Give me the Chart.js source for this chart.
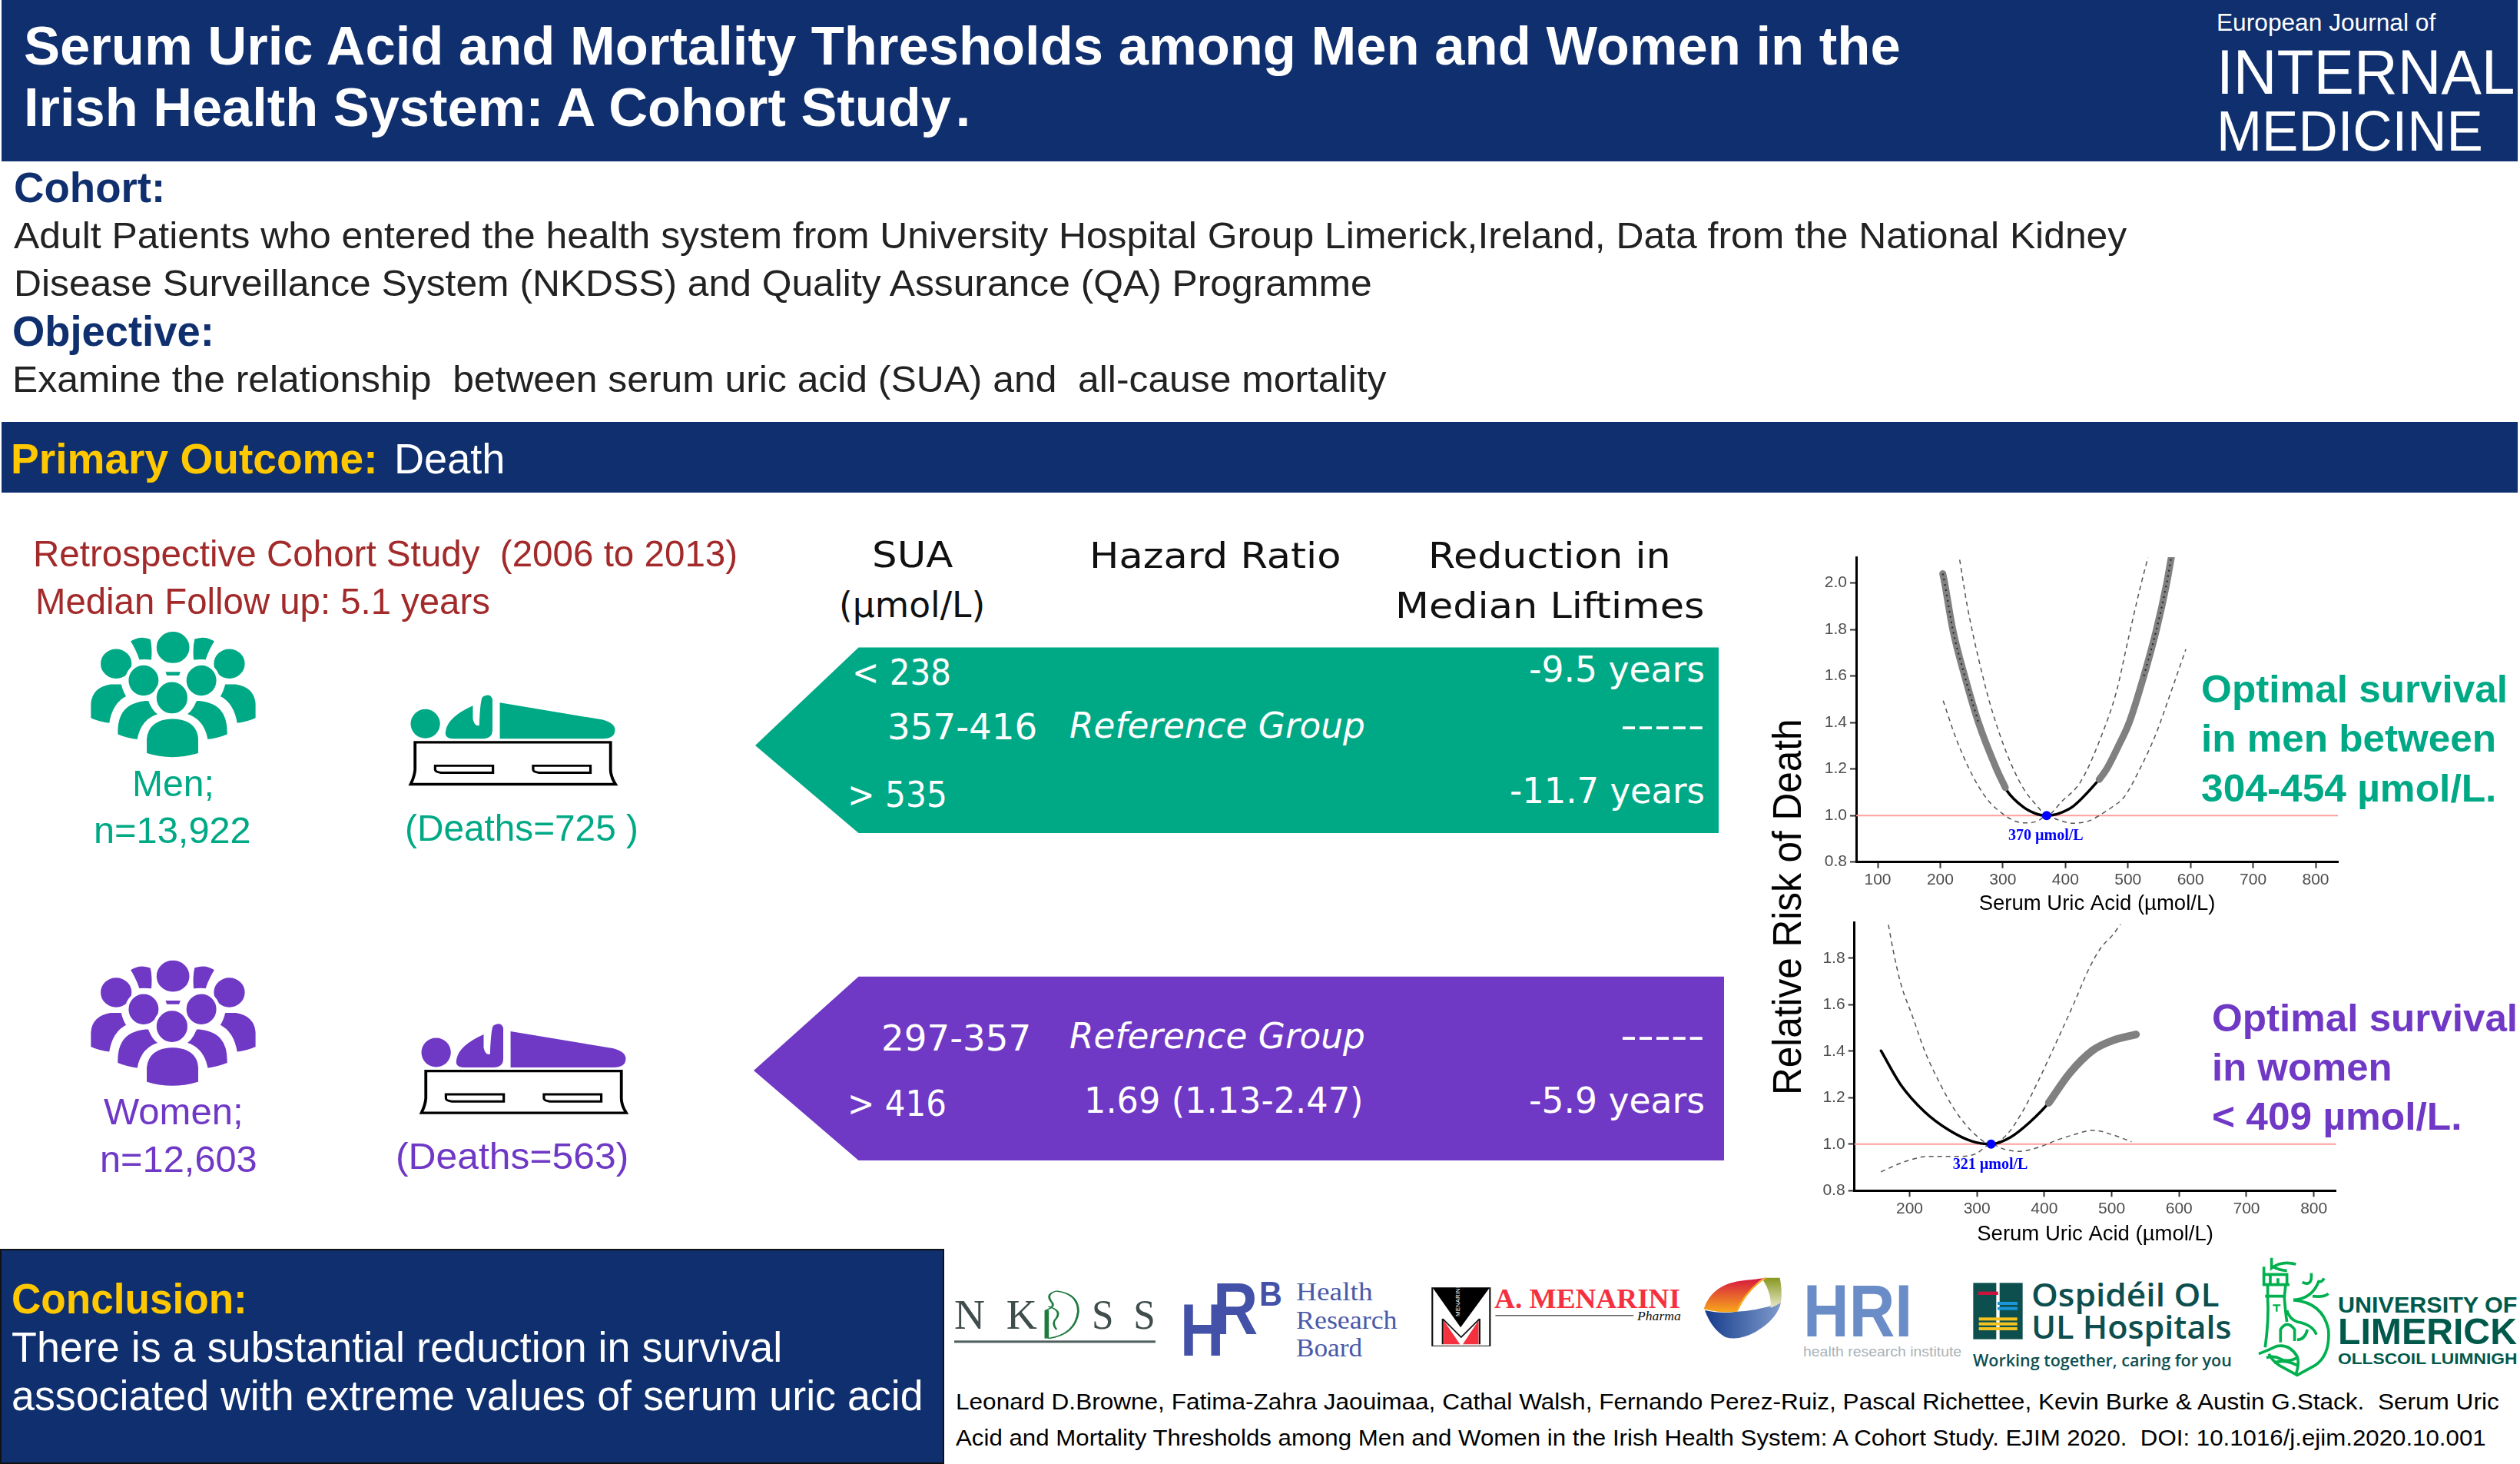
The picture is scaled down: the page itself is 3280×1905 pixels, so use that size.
<!DOCTYPE html>
<html>
<head>
<meta charset="utf-8">
<title>Serum Uric Acid and Mortality Thresholds</title>
<script src="https://cdn.jsdelivr.net/npm/chart.js@4"></script>
<style>
  html, body { margin: 0; padding: 0; background: #fff; }
  #page { position: relative; width: 3280px; height: 1905px; overflow: hidden; background: #fff; }
  #page svg.art { position: absolute; left: 0; top: 0; }
  .t { position: absolute; white-space: pre; line-height: 0.8; transform-origin: 0 0; }
  .box { position: absolute; background: #0f2f6e; }
  canvas { position: absolute; }
</style>
</head>
<body>
<div id="page">
  <div class="box" style="left:2px;top:0;width:3275px;height:210px"></div>
  <div class="box" style="left:2px;top:549px;width:3275px;height:92px"></div>
  <div class="box" style="left:0;top:1625px;width:1225px;height:276px;border:2px solid #111"></div>

  <svg class="art" width="3280" height="1905" viewBox="0 0 3280 1905">
    <defs>
      <g id="crowd" fill="currentColor" stroke="#fff" stroke-width="7">
        <path d="M262,268 Q285,250 310,262 Q315,285 312,315 Q290,312 282,315 Q275,290 262,268Z"/>
        <path d="M442,268 Q419,250 394,262 Q389,285 392,315 Q414,312 422,315 Q429,290 442,268Z"/>
        <path d="M333,335 L373,335 L368,350 L338,350Z"/>
        <ellipse cx="353" cy="283" rx="37" ry="39"/>
        <ellipse cx="237" cy="320" rx="35" ry="37"/>
        <ellipse cx="468" cy="320" rx="35" ry="37"/>
        <path d="M182,445 L182,410 Q185,370 225,363 L250,363 Q255,385 262,395 Q232,410 226,458 Q200,455 182,445Z"/>
        <path d="M525,445 L525,410 Q522,370 482,363 L457,363 Q452,385 445,395 Q475,410 481,458 Q507,455 525,445Z"/>
        <ellipse cx="293" cy="358" rx="34" ry="38"/>
        <ellipse cx="411" cy="358" rx="34" ry="38"/>
        <path d="M237,482 C235,430 255,402 305,400 Q315,430 330,435 Q290,445 283,495 Q258,492 237,482Z"/>
        <path d="M467,482 C469,430 449,402 399,400 Q389,430 374,435 Q414,445 421,495 Q446,492 467,482Z"/>
        <ellipse cx="351" cy="397" rx="35" ry="39"/>
        <path d="M296,525 L296,490 Q300,443 352,441 Q405,443 408,490 L408,525 Q352,545 296,525Z"/>
      </g>
      <g id="coffin">
        <g fill="currentColor">
          <ellipse cx="868" cy="456" rx="30" ry="33"/>
          <path d="M910,470 Q915,440 965,415 L965,445 Q968,462 978,460 Q980,400 985,395 Q1000,385 1005,400 L1005,470 Q1005,490 985,490 L925,490 Q905,490 910,470Z"/>
          <path d="M1020,408 L1230,447 Q1255,455 1255,470 Q1255,490 1230,490 L1020,490Z"/>
        </g>
        <path d="M847,498 L1246,498 L1246,560 Q1246,575 1256,593 L838,593 Q846,575 847,560Z" fill="#fff" stroke="#000" stroke-width="6"/>
        <path d="M888,551 L1006,551 L1006,567 L900,567 Q888,565 888,560Z" fill="#fff" stroke="#000" stroke-width="5"/>
        <path d="M1088,551 L1205,551 L1205,567 L1100,567 Q1088,565 1088,560Z" fill="#fff" stroke="#000" stroke-width="5"/>
      </g>
      <linearGradient id="ribRed" x1="0" y1="0" x2="0" y2="1"><stop offset="0" stop-color="#d6183f"/><stop offset="1" stop-color="#f7a81c"/></linearGradient>
      <linearGradient id="ribBlue" x1="0" y1="0" x2="1" y2="0"><stop offset="0" stop-color="#163c8c"/><stop offset="1" stop-color="#7e9bcc"/></linearGradient>
      <linearGradient id="ribOlive" x1="0" y1="0" x2="0" y2="1"><stop offset="0" stop-color="#87981f"/><stop offset="1" stop-color="#e8e8cc"/></linearGradient>
    </defs>

    <polygon points="1117.5,842.5 2237,842.5 2237,1084 1117.5,1084 983,970" fill="#00a985"/>
    <polygon points="1117.5,1270.8 2244,1270.8 2244,1510 1117.5,1510 981,1393" fill="#6f38c5"/>

    <g transform="translate(0,680) scale(.6378,.5741)">
      <use href="#crowd" style="color:#00a985"/>
      <use href="#coffin" style="color:#00a985"/>
      <use href="#crowd" transform="translate(0,745)" style="color:#6f38c5"/>
      <use href="#coffin" transform="translate(22,745)" style="color:#6f38c5"/>
    </g>

    <!-- NKDSS, HRB, Menarini and HRI logos -->
    <g transform="translate(1230,1650) scale(.7079,.3333)">
      <path d="M205,90 Q245,100 245,170 Q240,260 190,275 M205,90 Q185,100 195,130 Q205,150 185,165 M190,150 Q215,165 205,195 Q195,215 205,240" fill="none" stroke="#1f7a3f" stroke-width="4"/>
      <path d="M187,165 L187,275" stroke="#1f7a3f" stroke-width="8"/>
      <rect x="17" y="283" width="370" height="9" fill="#4f5f5e"/>
      <rect x="896" y="77" width="106" height="227" fill="#fff" stroke="#111" stroke-width="3"/>
      <path d="M897,78 L1001,78 L948,232Z" fill="#000"/>
      <path d="M917,205 L947,298 L917,298Z M981,205 L981,298 L952,298Z" fill="#f5303f"/>
      <path d="M915,298 L915,198 L949,270 L983,198 L983,298" fill="none" stroke="#111" stroke-width="3"/>
      <rect x="1012" y="184" width="254" height="3" fill="#111"/>
      <path d="M1397,165 Q1430,180 1455,170 Q1500,165 1537,135 Q1530,200 1490,250 Q1460,285 1435,270 Q1410,240 1397,165Z" fill="url(#ribBlue)"/>
      <path d="M1395,160 Q1410,60 1470,48 L1505,40 Q1480,70 1455,170 Q1425,178 1395,160Z" fill="url(#ribRed)"/>
      <path d="M1505,38 L1535,38 Q1540,90 1537,135 Q1525,150 1518,155 Q1520,100 1505,50Z" fill="url(#ribOlive)"/>
      <path d="M1455,170 Q1475,80 1510,38" fill="none" stroke="#f7a81c" stroke-width="4"/>
    </g>
    <text transform="rotate(-90 1900 1713)" x="1900" y="1713" font-family="Liberation Sans" font-size="8" fill="#fff">MENARINI</text>

    <!-- hospital group and university crest -->
    <g transform="translate(2560,1630) scale(.3333)">
      <rect x="25" y="118" width="90" height="220" fill="#0d4f4f"/>
      <rect x="128" y="118" width="90" height="220" fill="#0d4f4f"/>
      <rect x="45" y="152" width="77" height="13" fill="#c8143c"/>
      <rect x="120" y="192" width="78" height="12" fill="#1b96d8"/>
      <rect x="120" y="212" width="78" height="12" fill="#1b96d8"/>
      <rect x="47" y="253" width="150" height="12" fill="#f4c320"/>
      <rect x="47" y="272" width="150" height="12" fill="#f4c320"/>
      <rect x="47" y="291" width="150" height="12" fill="#f4c320"/>
      <g fill="none" stroke="#00b04f" stroke-width="11">
        <path d="M1190,20 L1190,60 Q1230,30 1285,45 M1195,55 Q1225,70 1250,70"/>
        <path d="M1160,55 L1160,125 L1260,125 M1160,85 L1250,85 L1250,125 M1185,85 L1185,125 M1215,100 L1215,125"/>
        <path d="M1165,170 L1245,170 M1175,125 L1175,175 Q1180,260 1165,370 M1245,125 L1240,175 Q1245,240 1250,270"/>
        <path d="M1195,205 L1225,205 M1210,205 L1210,230" stroke-width="7"/>
        <path d="M1275,185 Q1390,195 1412,300 Q1420,400 1360,440 L1290,478 L1220,440 Q1190,420 1180,395"/>
        <path d="M1275,185 Q1350,180 1375,110 M1310,115 Q1350,135 1345,80 M1350,170 Q1395,175 1412,160 M1370,110 Q1385,120 1395,100"/>
        <path d="M1225,350 L1225,300 Q1250,260 1280,300 L1280,345 M1250,225 Q1260,260 1290,270 Q1350,280 1365,320 M1290,340 Q1320,340 1330,300"/>
        <path d="M1140,395 Q1180,380 1210,365 Q1260,355 1290,405 M1170,410 Q1200,400 1225,415 Q1255,430 1290,410 M1200,430 Q1240,415 1290,440 M1290,405 Q1300,430 1285,475"/>
      </g>
    </g>
  </svg>

  <canvas id="chartMen" width="760" height="492" style="left:2300px;top:705px;width:760px;height:492px"></canvas>
  <canvas id="chartWomen" width="760" height="445" style="left:2300px;top:1180px;width:760px;height:445px"></canvas>
</div>

<script>
// x axis ticks and y axis ticks of both panels
const menXTicks = [100, 200, 300, 400, 500, 600, 700, 800];
const menYTicks = [0.8, 1.0, 1.2, 1.4, 1.6, 1.8, 2.0];
const womenXTicks = [200, 300, 400, 500, 600, 700, 800];
const womenYTicks = [0.8, 1.0, 1.2, 1.4, 1.6, 1.8];

// men, relative risk curve
const menSua = [204, 207, 220, 239, 261, 290, 304, 306, 334, 350, 360, 370, 380, 390, 413, 451.5, 454, 466, 484, 502, 525.4, 545.6, 562, 569.3];
const menRisk = [2.04, 2.0, 1.80, 1.60, 1.40, 1.20, 1.12, 1.109, 1.034, 1.011, 1.002, 1.0, 1.002, 1.009, 1.041, 1.147, 1.155, 1.2, 1.295, 1.4, 1.6, 1.8, 2.0, 2.11];
const menUpperSua = [231, 243.5, 262, 281, 306, 331, 356, 370, 394, 425, 456.5, 481.6, 500, 519, 532];
const menUpper = [2.10, 1.896, 1.665, 1.467, 1.269, 1.125, 1.037, 1.0, 1.06, 1.148, 1.335, 1.533, 1.753, 1.974, 2.11];
const menLowerSua = [204.6, 224.7, 250, 275, 300, 318.7, 337.5, 356, 370, 387.6, 412.7, 437.7, 456.5, 475, 494, 519, 544, 569, 592.5];
const menLower = [1.494, 1.335, 1.18, 1.07, 1.007, 0.977, 0.968, 0.977, 1.0, 0.982, 0.967, 0.977, 1.004, 1.037, 1.08, 1.2, 1.346, 1.533, 1.715];

// women, relative risk curve
const womenSua = [157.5, 187, 222, 257, 292, 321, 350, 379, 406.6, 437.5, 472, 501.5, 536];
const womenRisk = [1.402, 1.255, 1.14, 1.063, 1.013, 1.0, 1.03, 1.096, 1.178, 1.305, 1.404, 1.446, 1.472];
const womenUpperSua = [168.6, 175.6, 187, 204.7, 222, 245, 268.7, 297.8, 321, 344, 367.6, 391, 414, 443, 466.6, 484, 501.5, 513];
const womenUpper = [1.944, 1.834, 1.69, 1.547, 1.404, 1.261, 1.14, 1.04, 1.0, 1.04, 1.14, 1.272, 1.415, 1.60, 1.757, 1.845, 1.90, 1.946];
const womenLowerSua = [157.5, 193, 228, 268.7, 297.8, 321, 338.5, 362, 391, 420, 443, 472, 501.5, 529.5];
const womenLower = [0.881, 0.925, 0.947, 0.947, 0.958, 1.0, 0.98, 0.969, 0.986, 1.019, 1.04, 1.06, 1.04, 1.01];

function toPoints(xs, ys) {
  return xs.map(function (x, i) { return { x: x, y: ys[i] }; });
}

function pick(xs, ys, test) {
  return toPoints(xs, ys).filter(function (p) { return test(p.x); });
}

function curve(data, color, width, dash) {
  return {
    data: data,
    showLine: true,
    borderColor: color,
    borderWidth: width,
    borderDash: dash || [],
    borderCapStyle: dash ? 'butt' : 'round',
    cubicInterpolationMode: 'monotone',
    pointRadius: 0,
    fill: false
  };
}

// text under the blue nadir point, placed from the point itself
const nadirLabel = {
  id: 'nadirLabel',
  afterDatasetsDraw(chart, args, opts) {
    const p = chart.getDatasetMeta(0).data[0];
    const c = chart.ctx;
    c.save();
    c.font = "bold 20px 'Liberation Serif'";
    c.fillStyle = '#0000ff';
    c.textAlign = 'center';
    c.textBaseline = 'alphabetic';
    c.fillText(opts.text, p.x - 1, p.y + 32);
    c.restore();
  }
};

function makeChart(id, cfg) {
  const datasets = [
    { data: [cfg.nadir], showLine: false, pointRadius: 6, pointBackgroundColor: '#0000ff', pointBorderWidth: 0 }
  ].concat(cfg.lines).concat([
    curve(toPoints([cfg.xMin, cfg.xMax], [1, 1]), '#ff9f9f', 2)
  ]);

  return new Chart(document.getElementById(id), {
    type: 'scatter',
    data: { datasets: datasets },
    plugins: [nadirLabel],
    options: {
      responsive: false,
      animation: false,
      devicePixelRatio: 1,
      layout: { padding: { top: cfg.padTop, right: cfg.padRight, left: 0, bottom: 0 } },
      plugins: {
        legend: { display: false },
        tooltip: { enabled: false },
        nadirLabel: { text: cfg.label }
      },
      scales: {
        x: {
          type: 'linear',
          min: cfg.xMin,
          max: cfg.xMax,
          afterBuildTicks: function (s) { s.ticks = cfg.xTicks.map(function (v) { return { value: v }; }); },
          afterFit: function (s) { s.height = cfg.xHeight; },
          border: { color: '#000', width: 3 },
          grid: { drawOnChartArea: false, drawTicks: true, tickLength: 8, tickColor: '#333', tickWidth: 2 },
          ticks: { color: '#4d4d4d', font: { size: 21 }, padding: 3, maxRotation: 0, autoSkip: false },
          title: { display: true, text: 'Serum Uric Acid (µmol/L)', color: '#000', font: { size: 27.5 }, padding: { top: 0, bottom: cfg.titleBottom } }
        },
        y: {
          type: 'linear',
          min: 0.8,
          max: cfg.yMax,
          afterBuildTicks: function (s) { s.ticks = cfg.yTicks.map(function (v) { return { value: v }; }); },
          afterFit: function (s) { s.width = cfg.yWidth; },
          border: { color: '#000', width: 3 },
          grid: { drawOnChartArea: false, drawTicks: true, tickLength: 8, tickColor: '#333', tickWidth: 2 },
          ticks: { color: '#4d4d4d', font: { size: 21 }, padding: 4, autoSkip: false, callback: function (v) { return Number(v).toFixed(1); } }
        }
      }
    }
  });
}

Chart.defaults.font.family = "'Liberation Sans', Arial, sans-serif";

makeChart('chartMen', {
  nadir: { x: 370, y: 1 },
  label: '370 µmol/L',
  xMin: 65.6, xMax: 835.6, yMax: 2.111,
  xTicks: menXTicks, yTicks: menYTicks,
  padTop: 20, padRight: 17, xHeight: 75.3, yWidth: 116, titleBottom: 4,
  lines: [
    curve(pick(menSua, menRisk, function (x) { return x <= 261; }), '#222', 2, [2, 5]),
    curve(pick(menSua, menRisk, function (x) { return x >= 525; }), '#222', 2, [2, 5]),
    curve(pick(menSua, menRisk, function (x) { return x <= 304; }), '#808080', 9),
    curve(pick(menSua, menRisk, function (x) { return x >= 454; }), '#808080', 9),
    curve(toPoints(menSua, menRisk), '#000', 3.5),
    curve(toPoints(menUpperSua, menUpper), '#555', 1.5, [6, 5]),
    curve(toPoints(menLowerSua, menLower), '#555', 1.5, [6, 5])
  ]
});

makeChart('chartWomen', {
  nadir: { x: 321, y: 1 },
  label: '321 µmol/L',
  xMin: 118, xMax: 833, yMax: 1.955,
  xTicks: womenXTicks, yTicks: womenYTicks,
  padTop: 20, padRight: 19.4, xHeight: 75.7, yWidth: 113.6, titleBottom: 2,
  lines: [
    curve(pick(womenSua, womenRisk, function (x) { return x >= 406; }), '#808080', 10),
    curve(toPoints(womenSua, womenRisk), '#000', 3.5),
    curve(toPoints(womenUpperSua, womenUpper), '#555', 1.5, [6, 5]),
    curve(toPoints(womenLowerSua, womenLower), '#555', 1.5, [6, 5])
  ]
});

// page text: [text, left, right, baseline, size, colour, style]
const SANS = "'Liberation Sans'", SERIF = "'Liberation Serif'", DEJA = "'DejaVu Sans'", OPEN = "'Open Sans'";
const NAVY = '#0f2f6e', GOLD = '#ffc800', GREEN = '#00a985', PURPLE = '#6f38c5', BROWN = '#a32a2a', WHITE = '#fff';

const pageTexts = [
  ['Serum Uric Acid and Mortality Thresholds among Men and Women in the', 31, 2474, 83, 71, WHITE, 'b'],
  ['Irish Health System: A Cohort Study\u200a.', 31, 1263, 163, 71, WHITE, 'b'],
  ['European Journal of', 2885, 3170, 39, 31, WHITE],
  ['INTERNAL', 2885, 3274, 120, 82, WHITE],
  ['MEDICINE', 2885, 3232, 194, 74, WHITE],
  ['Cohort:', 18, 215, 262, 56, NAVY, 'b'],
  ['Adult Patients who entered the health system from University Hospital Group Limerick,Ireland, Data from the National Kidney', 18, 2768, 322, 48, '#222'],
  ['Disease Surveillance System (NKDSS) and Quality Assurance (QA) Programme', 18, 1786, 384, 48, '#222'],
  ['Objective:', 16, 279, 449, 56, NAVY, 'b'],
  ['Examine the relationship  between serum uric acid (SUA) and  all-cause mortality', 16, 1804, 509, 48, '#222'],
  ['Primary Outcome:', 14, 492, 615, 56, GOLD, 'b'],
  ['Death', 513, 657, 615, 56, WHITE],

  ['Retrospective Cohort Study  (2006 to 2013)', 43, 960, 736, 49, BROWN],
  ['Median Follow up: 5.1 years', 46, 638, 798, 49, BROWN],
  ['Men;', 172, 279, 1035, 49, GREEN],
  ['n=13,922', 122, 327, 1096, 49, GREEN],
  ['(Deaths=725 )', 527, 831, 1093, 49, GREEN],
  ['Women;', 135, 317, 1462, 49, PURPLE],
  ['n=12,603', 130, 335, 1524, 49, PURPLE],
  ['(Deaths=563)', 515, 818, 1520, 49, PURPLE],

  ['SUA', 1135, 1240, 738, 47, '#111', 'd'],
  ['(µmol/L)', 1092, 1282, 803, 47, '#111', 'd'],
  ['Hazard Ratio', 1418, 1746, 739, 47, '#111', 'd'],
  ['Reduction in', 1859, 2175, 739, 47, '#111', 'd'],
  ['Median Liftimes', 1816, 2219, 804, 47, '#111', 'd'],

  ['< 238', 1109, 1238, 891, 47, WHITE, 'd'],
  ['-9.5 years', 1990, 2219, 887, 47, WHITE, 'd'],
  ['357-416', 1155, 1350, 962, 47, WHITE, 'd'],
  ['Reference Group', 1392, 1777, 960, 47, WHITE, 'di'],
  ['-----', 2109, 2219, 960, 47, WHITE, 'd'],
  ['> 535', 1103, 1233, 1050, 47, WHITE, 'd'],
  ['-11.7 years', 1965, 2219, 1045, 47, WHITE, 'd'],
  ['297-357', 1147, 1342, 1367, 47, WHITE, 'd'],
  ['Reference Group', 1392, 1777, 1364, 47, WHITE, 'di'],
  ['-----', 2109, 2219, 1364, 47, WHITE, 'd'],
  ['> 416', 1103, 1232, 1452, 47, WHITE, 'd'],
  ['1.69 (1.13-2.47)', 1411, 1775, 1448, 47, WHITE, 'd'],
  ['-5.9 years', 1990, 2219, 1448, 47, WHITE, 'd'],

  ['Optimal survival', 2865, 3264, 912, 50, GREEN, 'b'],
  ['in men between', 2865, 3249, 976, 50, GREEN, 'b'],
  ['304-454 µmol/L.', 2865, 3249, 1041, 50, GREEN, 'b'],
  ['Optimal survival', 2879, 3277, 1340, 50, PURPLE, 'b'],
  ['in women', 2879, 3114, 1404, 50, PURPLE, 'b'],
  ['< 409 µmol/L.', 2879, 3204, 1468, 50, PURPLE, 'b'],

  ['Conclusion:', 15, 322, 1707, 55, GOLD, 'b'],
  ['There is a substantial reduction in survival', 15, 1018, 1770, 55, WHITE],
  ['associated with extreme values of serum uric acid', 15, 1202, 1833, 55, WHITE],

  ['N  K', 1242, 1350, 1728, 55, '#3f4d4c', 's'],
  ['S  S', 1421, 1504, 1728, 55, '#3f4d4c', 's'],
  ['H', 1536, 1593, 1763, 96, '#4351a8', 'b'],
  ['R', 1579, 1637, 1735, 96, '#4351a8', 'b'],
  ['B', 1639, 1669, 1697, 44, '#4351a8', 'b'],
  ['Health', 1687, 1787, 1690, 34, '#4a59a8', 's'],
  ['Research', 1687, 1819, 1727, 34, '#4a59a8', 's'],
  ['Board', 1687, 1773, 1763, 34, '#4a59a8', 's'],
  ['A. MENARINI', 1945, 2187, 1701, 36, '#f5303f', 'sb'],
  ['Pharma', 2131, 2188, 1717, 17, '#111', 'si'],
  ['HRI', 2347, 2489, 1738, 96, '#6a8cc7', 'b'],
  ['health research institute', 2347, 2553, 1763, 18, '#a9b3b6'],
  ['Ospidéil OL', 2644, 2888, 1700, 41, '#0d4f4f', 'o'],
  ['UL Hospitals', 2644, 2905, 1742, 41, '#0d4f4f', 'o'],
  ['Working together, caring for you', 2568, 2905, 1778, 22, '#0d4f4f', 'o'],
  ['UNIVERSITY OF', 3043, 3276, 1706, 30, '#00594a', 'b'],
  ['LIMERICK', 3043, 3276, 1748, 48, '#00594a', 'b'],
  ['OLLSCOIL LUIMNIGH', 3043, 3276, 1774, 21, '#00594a', 'b'],

  ['Leonard D.Browne, Fatima-Zahra Jaouimaa, Cathal Walsh, Fernando Perez-Ruiz, Pascal Richettee, Kevin Burke & Austin G.Stack.  Serum Uric', 1244, 3253, 1832, 30, '#000'],
  ['Acid and Mortality Thresholds among Men and Women in the Irish Health System: A Cohort Study. EJIM 2020.  DOI: 10.1016/j.ejim.2020.10.001', 1244, 3236, 1879, 30, '#000']
];

function addText(row) {
  const page = document.getElementById('page');
  const style = row[6] || '';
  const el = document.createElement('div');
  el.className = 't';
  el.textContent = row[0];
  // distance from box top to baseline with line-height 0.8
  let family = SANS, up = 0.7465, nudge = 2;
  if (style[0] == 'd') { family = DEJA; nudge = 0; }
  if (style[0] == 's') { family = SERIF; up = 0.7375; }
  if (style[0] == 'o') { family = OPEN; up = 0.788; el.style.fontWeight = 600; nudge = 0; }
  if (style.indexOf('b') >= 0) el.style.fontWeight = 'bold';
  if (style.indexOf('i') >= 0) el.style.fontStyle = 'italic';
  el.style.fontFamily = family;
  el.style.fontSize = row[4] + 'px';
  el.style.color = row[5];
  el.style.left = row[1] + 'px';
  el.style.top = (row[3] - up * row[4] + nudge) + 'px';
  page.appendChild(el);
  el.style.transform = 'scaleX(' + ((row[2] - row[1]) / el.offsetWidth) + ')';
}

pageTexts.forEach(addText);

// big rotated axis caption shared by the two panels
const side = document.createElement('div');
side.className = 't';
side.textContent = 'Relative Risk of Death';
side.style.fontFamily = SANS;
side.style.fontSize = '51px';
side.style.color = '#000';
side.style.left = '0';
side.style.top = '0';
document.getElementById('page').appendChild(side);
side.style.transform = 'translate(2345px,1425px) rotate(-90deg) scaleX(' + (490 / side.offsetWidth) + ') translateY(' + (-0.7465 * 51) + 'px)';
</script>
</body>
</html>
